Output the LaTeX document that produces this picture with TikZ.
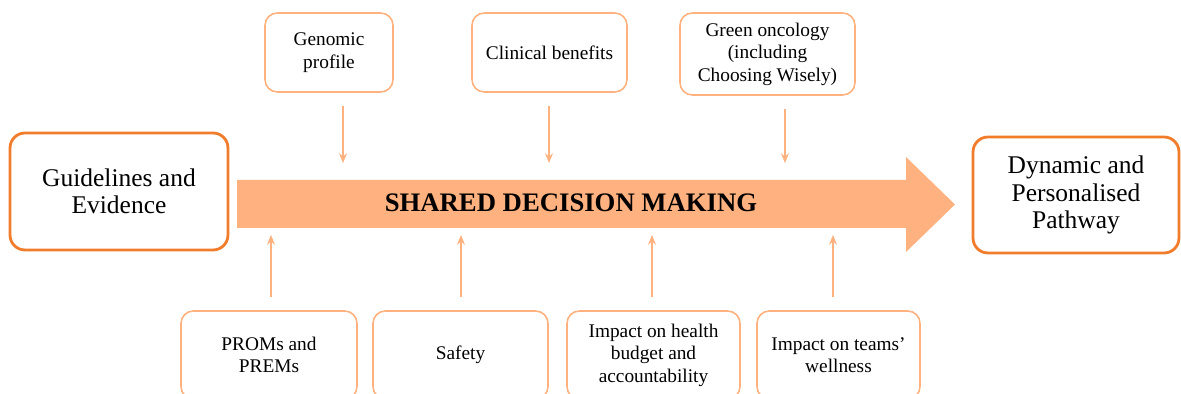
\documentclass[tikz,border=0pt]{standalone}
\usepackage{fontspec}
\setmainfont{Liberation Serif}
\usetikzlibrary{arrows.meta}
\definecolor{darkor}{RGB}{240,124,44}
\definecolor{lightor}{RGB}{255,178,128}
\tikzset{
  mainbox/.style={draw=darkor, line width=1.6pt, rounded corners=8.5pt, align=center,
    inner sep=0pt, font=\fontsize{14.5}{15.5}\selectfont},
  factor/.style={draw=lightor, line width=0.9pt, rounded corners=7pt, align=center,
    inner sep=0pt, font=\fontsize{11}{12.8}\selectfont},
  feed/.style={draw=lightor, line width=0.8pt, -{Stealth[length=5.5pt,width=4.5pt]}}
}
\begin{document}
\begin{tikzpicture}[x=0.02cm,y=-0.02cm]
  \useasboundingbox (0,0) rectangle (1181,394);
  \clip (0,0) rectangle (1181,394);
  % the big arrow
  \fill[lightor] (237,180) -- (906,180) -- (906,157) -- (955,204.5) -- (906,252) -- (906,228) -- (237,228) -- cycle;
  \node[font=\bfseries\fontsize{15.2}{16}\selectfont] (sdm) at (571,203) {SHARED DECISION MAKING};
  \node[mainbox, minimum width=4.36cm, minimum height=2.34cm] (guide) at (119,191.5) {Guidelines and\\Evidence};
  \node[mainbox, minimum width=4.12cm, minimum height=2.32cm] (pathway) at (1076,195) {Dynamic and\\Personalised\\Pathway};
  % top factors
  \node[factor, minimum width=2.56cm, minimum height=1.58cm] (genomic) at (329,52.5) {Genomic\\profile};
  \node[factor, minimum width=3.1cm, minimum height=1.58cm] (clinical) at (549.5,52.5) {Clinical benefits};
  \node[factor, minimum width=3.5cm, minimum height=1.64cm] (green) at (767.5,54) {Green oncology\\(including\\Choosing Wisely)};
  % bottom factors
  \node[factor, minimum width=3.52cm, minimum height=1.76cm] (proms) at (269,355) {PROMs and\\PREMs};
  \node[factor, minimum width=3.5cm, minimum height=1.76cm] (safety) at (460.5,355) {Safety};
  \node[factor, minimum width=3.46cm, minimum height=1.76cm] (budget) at (653.5,355) {Impact on health\\budget and\\accountability};
  \node[factor, minimum width=3.26cm, minimum height=1.76cm] (wellness) at (838.5,355) {Impact on teams’\\wellness};
  \foreach \n/\ax in {genomic/343, clinical/549, green/785}{
    \coordinate (\n-in) at (\ax,163);
    \draw[feed] (\n.south -| \n-in) ++(0,13) -- (\n-in);
  }
  \foreach \n/\ax in {proms/271, safety/461, budget/652, wellness/833}{
    \coordinate (\n-out) at (\ax,235);
    \draw[feed] (\n.north -| \n-out) ++(0,-13) -- (\n-out);
  }
\end{tikzpicture}
\end{document}
